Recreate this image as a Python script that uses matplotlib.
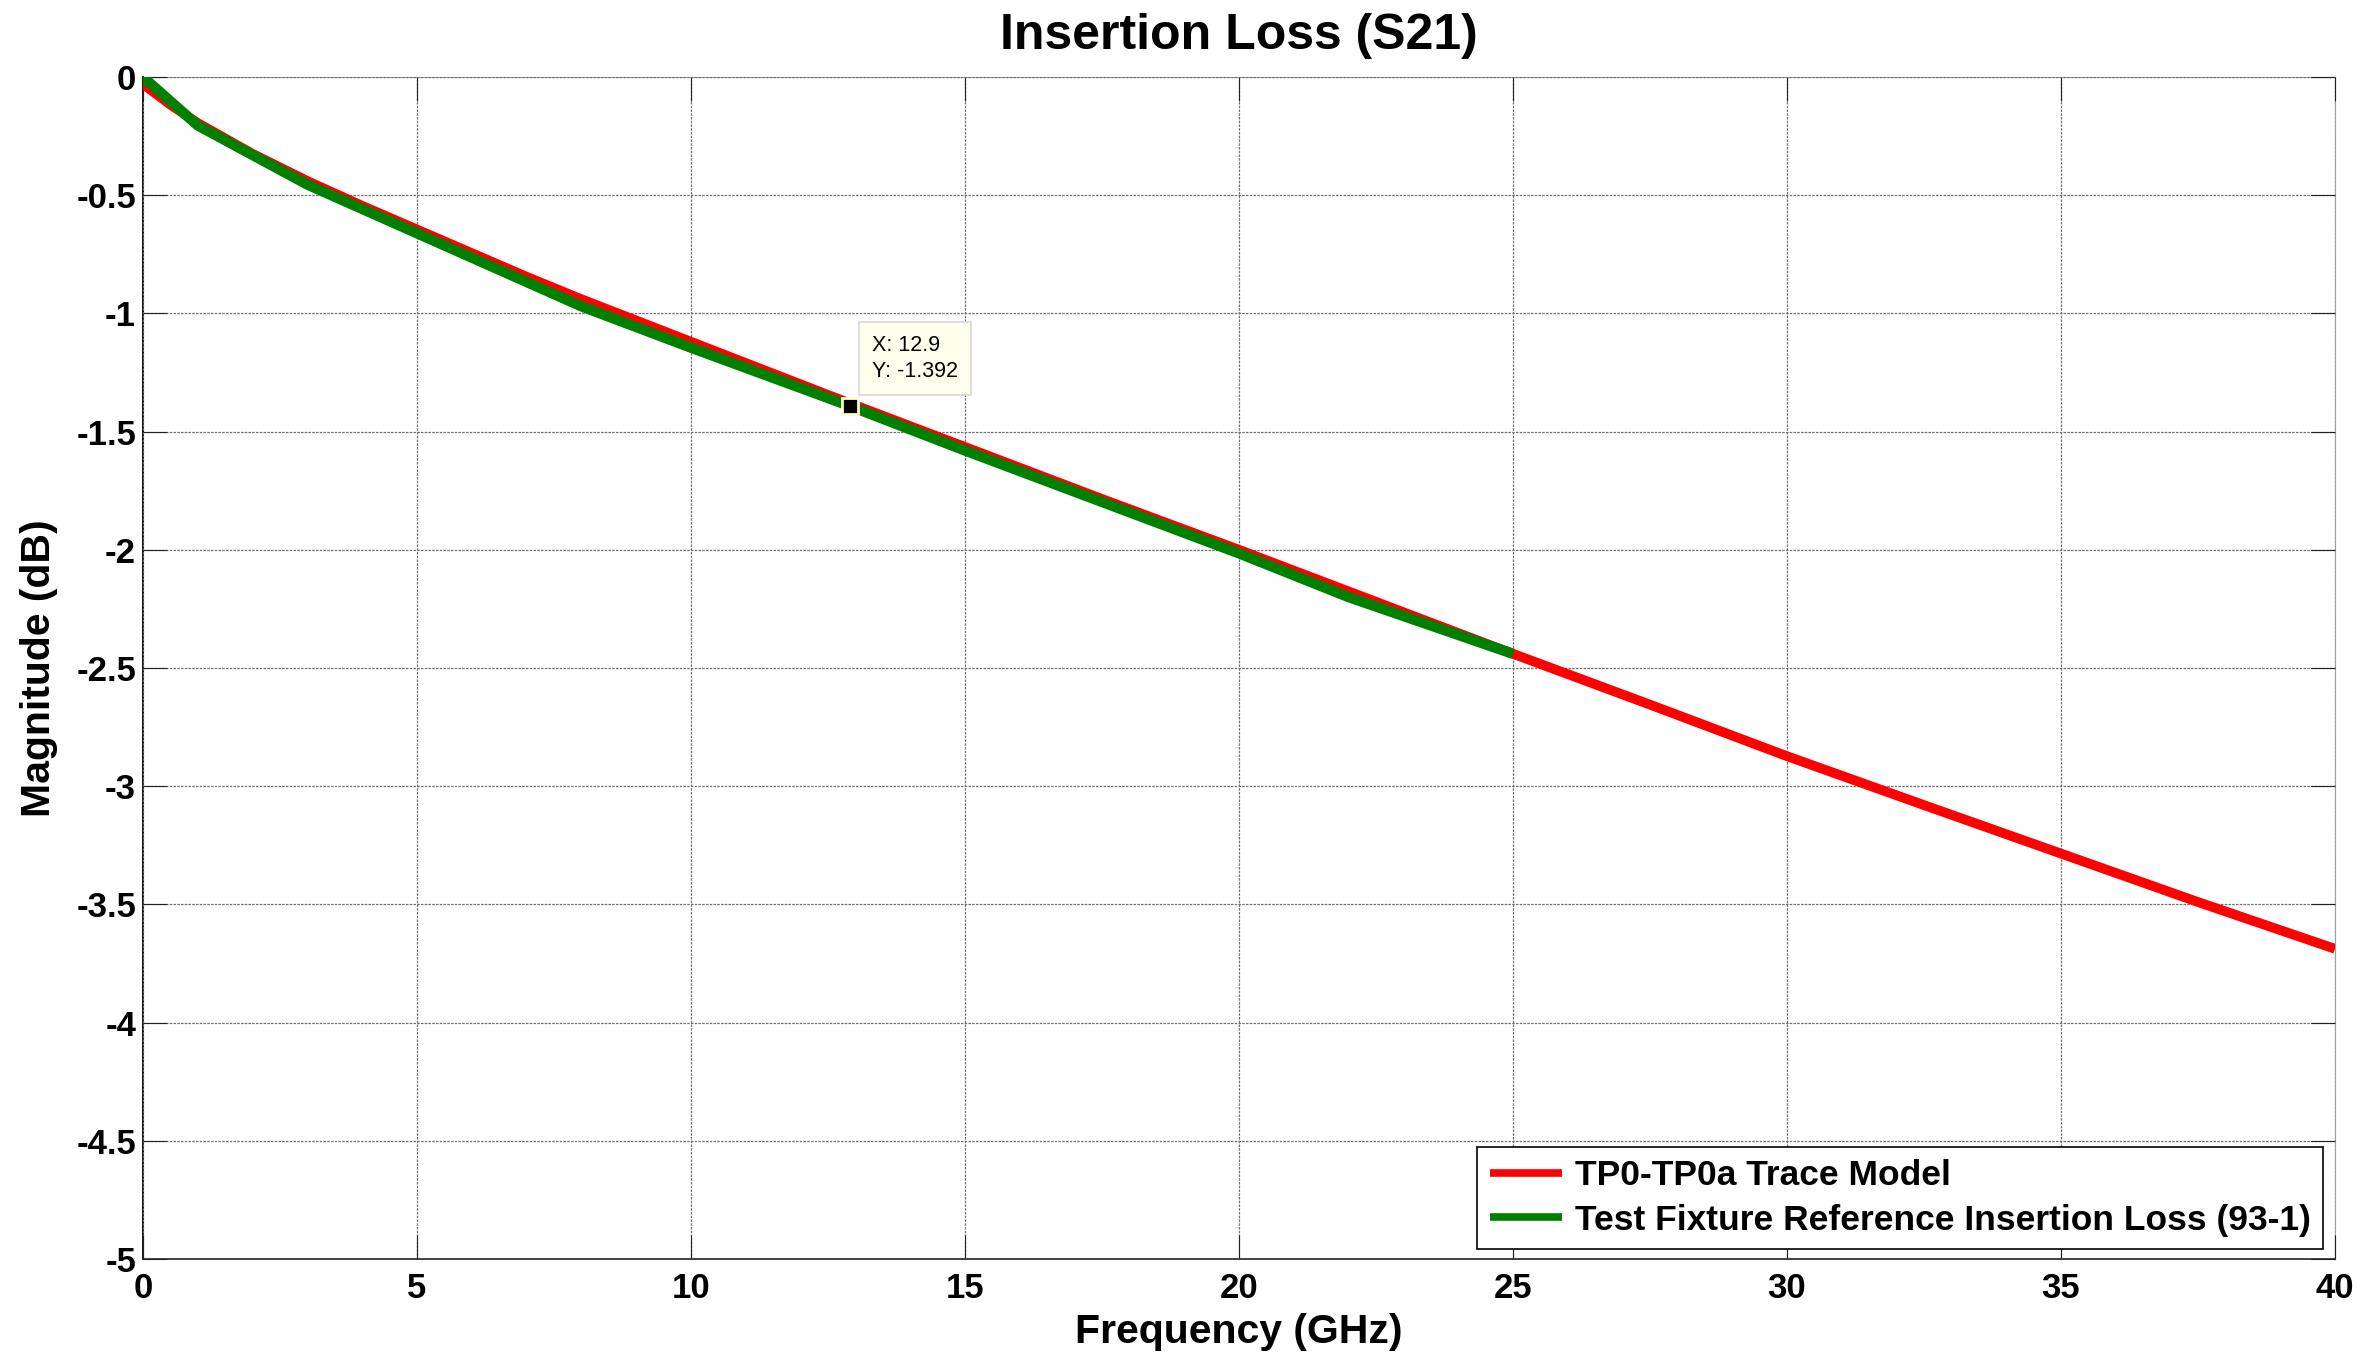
import matplotlib
matplotlib.use('Agg')
import matplotlib.pyplot as plt
from matplotlib.ticker import FuncFormatter

plt.rcParams['font.family'] = ['Liberation Sans', 'DejaVu Sans']
plt.rcParams['axes.unicode_minus'] = False

# TP0-TP0a trace model (red)
model_freq = [0, 0.5, 1, 2, 3, 4, 5, 6, 7, 8, 9, 10, 12.5, 15, 17.5, 20,
              22.5, 25, 27.5, 30, 32.5, 35, 37.5, 40]
model_db = [-0.03, -0.117, -0.195, -0.325, -0.44, -0.545, -0.645, -0.745,
            -0.845, -0.94, -1.03, -1.12, -1.345, -1.565, -1.785, -2.0,
            -2.22, -2.44, -2.655, -2.873, -3.08, -3.285, -3.49, -3.688]

# test fixture reference insertion loss (93-1), green
ref_freq = [0, 1, 3, 8, 10, 12.9, 15, 20, 22, 25]
ref_db = [0, -0.205, -0.455, -0.97, -1.145, -1.392, -1.58, -2.015, -2.2, -2.44]

# data tip
tip_x = 12.9
tip_y = -1.392

xticks = list(range(0, 41, 5))
yticks = [0, -0.5, -1, -1.5, -2, -2.5, -3, -3.5, -4, -4.5, -5]

W, H = 2373, 1354
fig = plt.figure(figsize=(W / 100, H / 100), dpi=100)
ax = fig.add_axes([143 / W, 1 - 1259 / H, (2335 - 143) / W, (1259 - 77) / H])

ax.plot(model_freq, model_db, color='#FF0000', lw=7, label='TP0-TP0a Trace Model',
        solid_capstyle='butt', zorder=3)
ax.plot(ref_freq, ref_db, color='#008000', lw=7.5,
        label='Test Fixture Reference Insertion Loss (93-1)', solid_capstyle='butt', zorder=4)

# datatip marker + box
ax.plot([tip_x], [tip_y], 's', ms=11, color='black', mec='#FFFFD0', mew=2, zorder=6)
ax.annotate('X: %g\nY: %g' % (tip_x, tip_y), xy=(tip_x, tip_y),
            xytext=(22, 24), textcoords='offset pixels', ha='left', va='bottom',
            fontsize=15.5, linespacing=1.3, zorder=7,
            bbox=dict(boxstyle='square,pad=0.6', fc='#FFFFEE', ec='#D8D8D8', lw=1.2))

ax.set_xlim(0, 40)
ax.set_ylim(-5, 0)
ax.set_xticks(xticks)
ax.set_yticks(yticks)
ax.yaxis.set_major_formatter(FuncFormatter(lambda v, p: '%g' % v))
ax.xaxis.set_major_formatter(FuncFormatter(lambda v, p: '%g' % v))
ax.tick_params(direction='in', length=17, width=0.8, color='#222222',
               top=True, right=True, labelsize=25)
ax.tick_params(axis='x', pad=9)
ax.tick_params(axis='y', pad=5)
for lab in ax.get_xticklabels() + ax.get_yticklabels():
    lab.set_fontweight('bold')

ax.grid(True, color='#707070', lw=0.9, linestyle=(0, (2, 1)))
ax.set_axisbelow(False)

ax.spines['left'].set_color('black')
ax.spines['bottom'].set_color('#333333')
ax.spines['left'].set_linewidth(1.3)
ax.spines['bottom'].set_linewidth(1.3)
ax.spines['top'].set_color('#A0A0A0')
ax.spines['right'].set_color('#A0A0A0')

ax.set_title('Insertion Loss (S21)', fontsize=36, fontweight='bold', pad=20)
ax.set_xlabel('Frequency (GHz)', fontsize=29.5, fontweight='bold')
ax.set_ylabel('Magnitude (dB)', fontsize=29.5, fontweight='bold')
ax.xaxis.set_label_coords(0.5, -0.046)
ax.yaxis.set_label_coords(-0.039, 0.5)

leg = ax.legend(loc='lower right', bbox_to_anchor=(2323 / W, 1 - 1249 / H),
                bbox_transform=fig.transFigure, borderaxespad=0,
                prop={'weight': 'bold', 'size': 25.5}, handlelength=2.05,
                handletextpad=0.35, labelspacing=0.33, borderpad=0.35,
                fancybox=False, framealpha=1, edgecolor='black')
leg.get_frame().set_linewidth(1.2)
for l in leg.get_lines():
    l.set_linewidth(5.5)

fig.savefig('out.png', dpi=100)
